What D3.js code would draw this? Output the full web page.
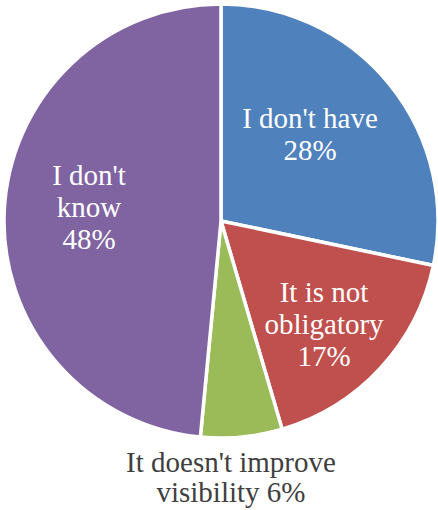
<!DOCTYPE html>
<html>
<head>
<meta charset="utf-8">
<script src="https://cdn.jsdelivr.net/npm/d3@7"></script>
</head>
<body style="margin:0">
<svg id="s" width="438" height="510"></svg>
<script>
// Survey answers, clockwise from 12 o'clock
const categories = ["I don't have", "It is not obligatory", "It doesn't improve visibility", "I don't know"];
const values = [28, 17, 6, 48];
const colors = ["#4F81BD", "#C0504D", "#9BBB59", "#8064A2"];

const svg = d3.select("#s");
const cx = 221, cy = 221, radius = 217;
const fontSize = 29, lineHeight = 32;

const data = categories.map((c, i) => ({ category: c, value: values[i], color: colors[i] }));

const pie = d3.pie().value(d => d.value).sort(null);
const arc = d3.arc().innerRadius(0).outerRadius(radius);
const arcs = pie(data);

const g = svg.append("g").attr("transform", `translate(${cx},${cy})`);

g.selectAll("path.slice")
  .data(arcs)
  .join("path")
  .attr("class", "slice")
  .attr("d", arc)
  .attr("fill", d => d.data.color)
  .attr("stroke", "#fff")
  .attr("stroke-width", 3.5)
  .attr("stroke-linejoin", "miter");

// Slice labels: wrapped category text followed by the value, one text element per line
const labelSpecs = [
  { lines: v => ["I don't have", v + "%"], x: 310, y: 128, fill: "#fff", lh: lineHeight },
  { lines: v => ["It is not", "obligatory", v + "%"], x: 324, y: 302, fill: "#fff", lh: lineHeight },
  { lines: v => ["It doesn't improve", "visibility " + v + "%"], x: 231, y: 472, fill: "#404040", lh: 30 },
  { lines: v => ["I don't", "know", v + "%"], x: 89, y: 185, fill: "#fff", lh: lineHeight }
];

arcs.forEach((a, i) => {
  const spec = labelSpecs[i];
  spec.lines(a.data.value).forEach((ln, k) => {
    svg.append("text")
      .attr("x", spec.x)
      .attr("y", spec.y + k * spec.lh)
      .attr("font-size", fontSize)
      .attr("font-family", "serif")
      .attr("text-anchor", "middle")
      .attr("fill", spec.fill)
      .text(ln);
  });
});
</script>
</body>
</html>
